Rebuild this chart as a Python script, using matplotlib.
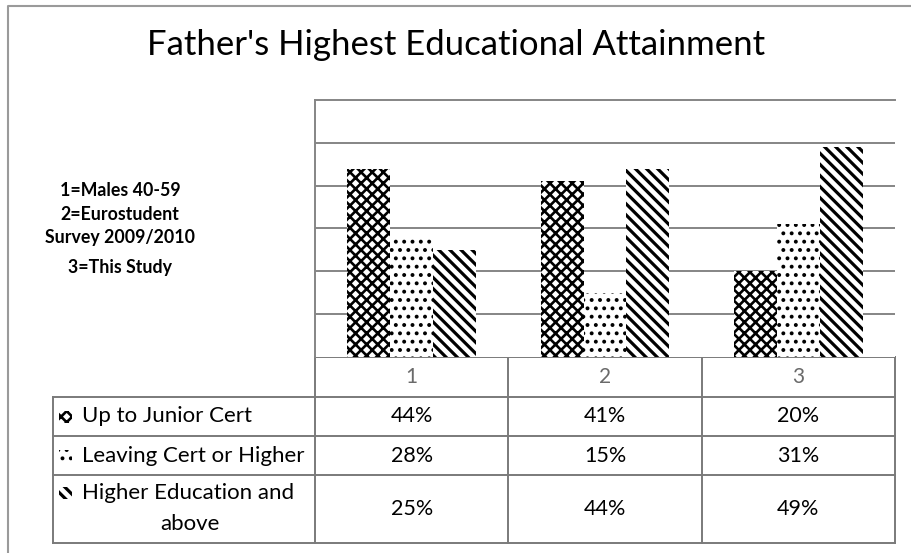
import numpy as np
import matplotlib
matplotlib.use('Agg')
import matplotlib.pyplot as plt
from matplotlib.patches import Rectangle

# Data (percent of respondents)
groups = ['1', '2', '3']
series_names = ['Up to Junior Cert', 'Leaving Cert or Higher', 'Higher Education and\nabove']
junior_cert = [44, 41, 20]
leaving_cert = [28, 15, 31]
higher_ed = [25, 44, 49]
key_lines = ['1=Males 40-59', '2=Eurostudent', 'Survey 2009/2010', '3=This Study']

values = [junior_cert, leaving_cert, higher_ed]
hatches = [('xxx', 1.9), ('..', 1.6), ('\\\\\\', 2.3)]

W, H = 911, 553
plt.rcParams['font.family'] = ['Lato', 'DejaVu Sans']

fig = plt.figure(figsize=(W / 100, H / 100), dpi=100)


def px_box(x0, y0, x1, y1):
    return [x0 / W, 1 - y1 / H, (x1 - x0) / W, (y1 - y0) / H]


def hatched(patch_fn, hatch, hlw):
    with plt.rc_context({'hatch.linewidth': hlw}):
        out = patch_fn()
    items = out if hasattr(out, '__iter__') else [out]
    for p in items:
        if hasattr(p, 'set_hatch_linewidth'):
            p.set_hatch_linewidth(hlw)
    return out


grid_col = '#858585'
line_col = '#7a7a7a'

# bar chart
ax = fig.add_axes(px_box(315, 100, 895, 357))
x = np.arange(len(groups))
w = 1 / 4.5
for i, vals in enumerate(values):
    hatch, hlw = hatches[i]
    hatched(lambda: ax.bar(x + (i - 1) * w, np.array(vals) / 100, w, color='white',
                           edgecolor='black', linewidth=0, hatch=hatch, zorder=3),
            hatch, hlw)

ax.set_xlim(-0.5, 2.5)
ax.set_ylim(0, 0.6)
ax.set_yticks(np.arange(0.1, 0.55, 0.1))
ax.set_xticks([])
ax.tick_params(axis='y', length=0, labelleft=False)
ax.yaxis.grid(True, color=grid_col, linewidth=1.4, zorder=0)
ax.set_axisbelow(True)
for side in ['right', 'bottom']:
    ax.spines[side].set_visible(False)
for side in ['top', 'left']:
    ax.spines[side].set_color(grid_col)
    ax.spines[side].set_linewidth(1.4)

# overlay in pixel coordinates for the data table, key and frame
tab = fig.add_axes([0, 0, 1, 1], zorder=-1)
tab.set_xlim(0, W)
tab.set_ylim(H, 0)
tab.axis('off')

col_x = [315 + k * 580 / 3 for k in range(4)]
row_y = [357, 397, 436, 475, 543]

tab.plot([col_x[0], col_x[-1]], [row_y[0], row_y[0]], color=line_col, lw=1.4)
for yy in row_y[1:]:
    tab.plot([53, col_x[-1]], [yy, yy], color=line_col, lw=1.4)
tab.plot([53, 53], [row_y[1], row_y[-1]], color=line_col, lw=1.4)
for xx in col_x:
    tab.plot([xx, xx], [row_y[0], row_y[-1]], color=line_col, lw=1.4)

# header row
for k, g in enumerate(groups):
    cx = (col_x[k] + col_x[k + 1]) / 2
    tab.text(cx, (row_y[0] + row_y[1]) / 2, g, ha='center', va='center',
             fontsize=15, color='#6a6a6a')

# series rows
for r, (name, vals) in enumerate(zip(series_names, values)):
    y0, y1 = row_y[r + 1], row_y[r + 2]
    cy = (y0 + y1) / 2
    hatch, hlw = hatches[r]
    lines = name.split('\n')
    first_y = cy if len(lines) == 1 else y0 + 18
    sw = hatched(lambda: Rectangle((59, first_y - 6), 13, 12, facecolor='white',
                                   edgecolor='black', linewidth=0, hatch=hatch),
                 hatch, hlw)
    tab.add_patch(sw)
    tab.text(82, first_y, lines[0], ha='left', va='center', fontsize=16)
    if len(lines) > 1:
        tab.text(190, first_y + 31, lines[1], ha='center', va='center', fontsize=16)
    for k, v in enumerate(vals):
        cx = (col_x[k] + col_x[k + 1]) / 2
        tab.text(cx, cy, f'{v}%', ha='center', va='center', fontsize=15.5)

# group key
for yy, line in zip([190, 214, 238, 267], key_lines):
    tab.text(120, yy, line, ha='center', va='center', fontsize=12.8, fontweight='bold')

# title
tab.text(456, 45, "Father's Highest Educational Attainment", ha='center', va='center',
         fontsize=25)

# chart frame
tab.plot([8, 8, W], [H, 6, 6], color='#9a9a9a', lw=1.5)

fig.savefig('out.png', dpi=100)
